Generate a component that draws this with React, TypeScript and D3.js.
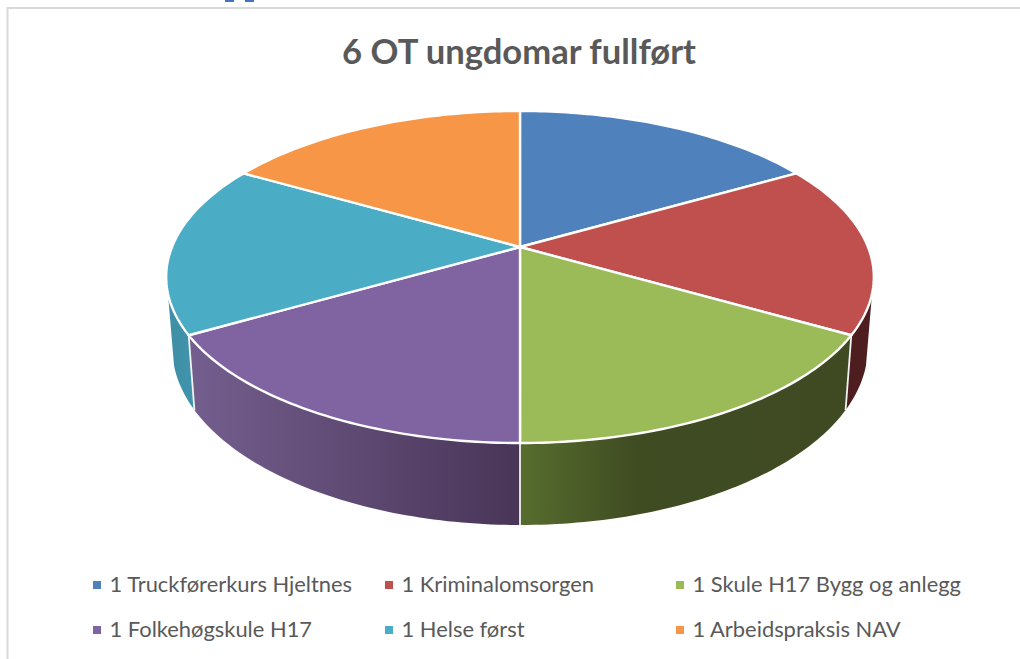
import React from 'react';
import * as d3 from 'd3';

const categories = [
  '1 Truckførerkurs Hjeltnes',
  '1 Kriminalomsorgen',
  '1 Skule H17 Bygg og anlegg',
  '1 Folkehøgskule H17',
  '1 Helse først',
  '1 Arbeidspraksis NAV',
];
const values = [1, 1, 1, 1, 1, 1];
const topColors = ['#4f81bd', '#c0504d', '#9bbb59', '#8064a2', '#4bacc6', '#f79646'];
const sideFills = ['#2a4466', 'url(#sideRed)', 'url(#sideGreen)', 'url(#sidePurple)', 'url(#sideTeal)', '#8a5220'];
const title = '6 OT ungdomar fullført';

const width = 1020;
const height = 659;
const legendColumns = [93, 385, 676];
const legendRows = [585, 630];

// perspective of the disc: k pushes the near edge down and out
const k = 0.1807;
const topDisc = { x0: 520, y0: 247, a: 348, b: 160.6 };
const bottomDisc = { x0: 520, y0: 315.8, a: 342, b: 171.4 };
const silhouette = 106; // degrees from 12 o'clock where the side stops being visible

type Disc = typeof topDisc;
const project = (disc: Disc, deg: number): [number, number] => {
  const t = (deg * Math.PI) / 180;
  const depth = -Math.cos(t);
  const w = 1 - k * depth;
  return [disc.x0 + (disc.a * Math.sin(t)) / w, disc.y0 + (disc.b * depth) / w];
};

const sweep = (from: number, to: number) => {
  const n = Math.max(2, Math.ceil(Math.abs(to - from)));
  return d3.range(n + 1).map((i) => from + ((to - from) * i) / n);
};

const line = d3.line();
const toDeg = (r: number) => (r * 180) / Math.PI;

export default function App() {
  const arcs = d3.pie<number>().sort(null)(values);
  const slices = arcs.map((a) => ({ from: toDeg(a.startAngle), to: toDeg(a.endAngle), index: a.index }));

  const sides = slices
    .map((s) => ({ ...s, lo: Math.max(s.from, silhouette), hi: Math.min(s.to, 360 - silhouette) }))
    .filter((s) => s.lo < s.hi);

  return (
    <svg
      width={width}
      height={height}
      style={{ position: 'absolute', left: 0, top: 0, background: '#fff' }}
      fontFamily="Lato, Carlito, sans-serif"
    >
      <defs>
        <linearGradient id="sideGreen" gradientUnits="userSpaceOnUse" x1="520" x2="850" y1="0" y2="0">
          <stop offset="0" stopColor="#576d2e" />
          <stop offset="0.35" stopColor="#3f4c22" />
          <stop offset="1" stopColor="#3f4a22" />
        </linearGradient>
        <linearGradient id="sidePurple" gradientUnits="userSpaceOnUse" x1="190" x2="520" y1="0" y2="0">
          <stop offset="0" stopColor="#745e8e" />
          <stop offset="1" stopColor="#483557" />
        </linearGradient>
        <linearGradient id="sideRed" gradientUnits="userSpaceOnUse" x1="845" x2="873" y1="0" y2="0">
          <stop offset="0" stopColor="#4d1c1e" />
          <stop offset="1" stopColor="#4f1e20" />
        </linearGradient>
        <linearGradient id="sideTeal" gradientUnits="userSpaceOnUse" x1="167" x2="195" y1="0" y2="0">
          <stop offset="0" stopColor="#3f8fa6" />
          <stop offset="1" stopColor="#4094ab" />
        </linearGradient>
      </defs>

      {/* frame, cropped on the right and at the bottom */}
      <path d="M7.5,660 V8 H1021" fill="none" stroke="#d9d9d9" strokeWidth={2} />
      {/* descenders of the text above the crop */}
      <rect x={225} y={0} width={9} height={2} fill="#4472c4" />
      <rect x={245} y={0} width={9} height={2} fill="#4472c4" />

      <text x={519} y={64} textAnchor="middle" fontSize={34.6} fontWeight={700} fill="#595959">
        {title}
      </text>

      {sides.map((s) => (
        <path
          key={`side-${s.index}`}
          fill={sideFills[s.index]}
          d={
            line([
              ...sweep(s.lo, s.hi).map((d) => project(topDisc, d)),
              ...sweep(s.hi, s.lo).map((d) => project(bottomDisc, d)),
            ]) + 'Z'
          }
        />
      ))}
      {slices
        .filter((s) => s.from >= silhouette && s.from <= 360 - silhouette)
        .map((s) => (
          <path
            key={`edge-${s.index}`}
            d={line([project(topDisc, s.from), project(bottomDisc, s.from)]) ?? ''}
            stroke="#f2f2f2"
            strokeWidth={1.8}
            fill="none"
          />
        ))}

      {slices.map((s) => (
        <path
          key={`slice-${s.index}`}
          fill={topColors[s.index]}
          stroke="#ffffff"
          strokeWidth={2.4}
          strokeLinejoin="round"
          d={line([[topDisc.x0, topDisc.y0], ...sweep(s.from, s.to).map((d) => project(topDisc, d))]) + 'Z'}
        />
      ))}

      {categories.map((c, i) => {
        const x = legendColumns[i % 3];
        const y = legendRows[Math.floor(i / 3)];
        return (
          <g key={c}>
            <rect x={x} y={y - 4} width={8} height={8} fill={topColors[i]} />
            <text x={x + 16.5} y={y + 7} fontSize={21.9} fill="#595959">
              {c}
            </text>
          </g>
        );
      })}
    </svg>
  );
}
